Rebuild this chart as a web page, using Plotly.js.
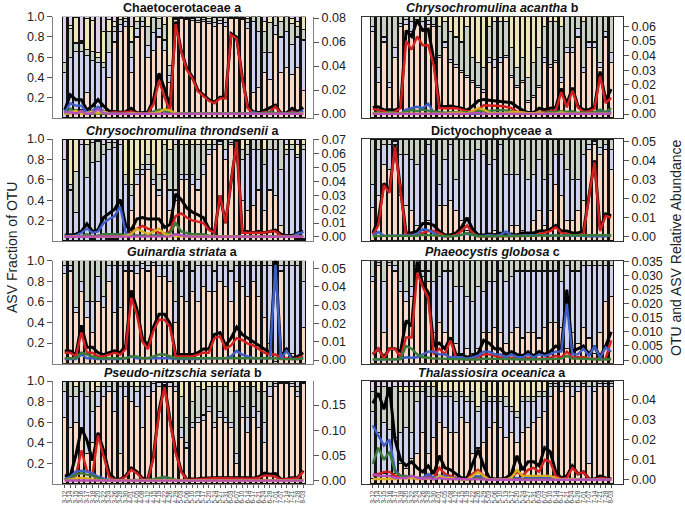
<!DOCTYPE html>
<html><head><meta charset="utf-8">
<script src="https://cdn.plot.ly/plotly-3.0.1.min.js"></script>
<style>html,body{margin:0;padding:0;background:#fff}#chart{width:685px;height:509px}</style>
</head><body><div id="chart"></div>
<script>
const dates = ['3-12','3-14','3-15','3-16','3-17','3-18','3-20','3-22','3-24','3-26','3-28','3-30','4-01','4-05','4-08','4-12','4-15','4-19','4-22','4-26','4-29','5-03','5-06','5-10','5-13','5-17','5-20','5-24','5-27','5-31','6-03','6-07','6-10','6-14','6-17','6-21','6-24','6-28','7-01','7-07','7-14','7-21','7-28','8-03'];

// ---- Panel 1: Chaetocerotaceae a ----
const chaet_otu = [0.0033,0.016,0.012,0.012,0.0033,0.0067,0.012,0.0067,0.0025,0.002,0.0014,0.002,0.0047,0.001,0.001,0.0017,0.012,0.034,0.021,0.006,0.077,0.053,0.038,0.031,0.020,0.016,0.012,0.010,0.014,0.014,0.067,0.064,0.031,0.006,0.002,0.001,0.0033,0.0055,0.0075,0.0006,0.001,0.0047,0.002,0.0055];
const chaet_red = [0.0005,0.001,0.001,0.001,0.0008,0.0008,0.0005,0.0008,0.001,0.0015,0.0012,0.0018,0.002,0.0008,0.0009,0.001,0.008,0.028,0.014,0.002,0.075,0.052,0.037,0.030,0.019,0.015,0.011,0.009,0.013,0.013,0.066,0.063,0.030,0.005,0.0005,0.0003,0.0015,0.002,0.006,0.0003,0.0005,0.002,0.001,0.0015];
const chaet_blue = [0.0015,0.009,0.007,0.007,0.0012,0.003,0.006,0.0025,0.0006,0.0002,0.0001,0.0001,0.0007,0.0001,0.0001,0.0002,0.002,0.003,0.002,0.0004,0.001,0.0005,0.0003,0.0003,0.0004,0.0003,0.0002,0.0004,0.0003,0.0005,0.0004,0.0005,0.0004,0.0004,0.0015,0.0006,0.0007,0.0015,0.0007,0.0002,0.0004,0.0014,0.0006,0.0028];
const chaet_green = [0.0003,0.0045,0.001,0.001,0.0002,0.0006,0.0006,0.0003,0.0005,0.0001,0.0001,0.0001,0.0007,0.0001,0.0001,0.0003,0.0018,0.0035,0.003,0.0006,0.0008,0.0005,0.0004,0.0004,0.0005,0.0004,0.0003,0.0005,0.0004,0.0006,0.0005,0.0006,0.0003,0.0002,0.0001,0.0002,0.0007,0.0016,0.0007,0.0001,0.0002,0.0009,0.0002,0.0006];
const chaet_yellow = [0.0001,0.0005,0.003,0.0002,0.001,0.002,0.0006,0.002,0.0003,0.0001,0.0001,0.0001,0.0007,0.0001,0.0001,0.0002,0.0006,0.0017,0.004,0.003,0.0005,0.0002,0.0002,0.0002,0.0002,0.0002,0.0002,0.0002,0.0002,0.0002,0.0002,0.0002,0.0002,0.0002,0.0001,0.0001,0.0003,0.0005,0.0001,0.0001,0.0001,0.0002,0.0001,0.0008];
const chaet_purple = [0.0015,0.0016,0.0003,0.0024,0.0001,0.0007,0.004,0.0007,0.0001,0.0001,0.0001,0.0001,0.0002,0.0001,0.0001,0.0001,0.0003,0.0004,0.0004,0.0003,0.0003,0.0003,0.0003,0.0003,0.0003,0.0003,0.0003,0.0003,0.0003,0.0003,0.0003,0.0003,0.0003,0.0003,0.0001,0.0001,0.0001,0.0001,0.0001,0.0001,0.0001,0.0001,0.0001,0.0001];
const chaet_fr_red = [0,.05,.08,.08,.25,.12,.05,.12,.40,.75,.85,.90,.45,.80,.90,.60,.67,.80,.67,.35,.97,.98,.97,.96,.94,.95,.93,.90,.93,.90,.98,.98,.97,.88,.25,.30,.45,.38,.82,.45,.50,.43,.50,.27];
const chaet_fr_blue = [.45,.55,.58,.58,.37,.45,.50,.38,.25,.10,.07,.05,.15,.08,.05,.12,.17,.08,.10,.07,.01,.01,.01,.02,.02,.02,.02,.04,.03,.04,.01,.01,.01,.06,.70,.55,.20,.27,.09,.35,.35,.30,.30,.50];
const chaet_fr_green = [.10,.28,.08,.08,.06,.09,.05,.05,.20,.05,.05,.03,.15,.07,.05,.18,.15,.10,.15,.10,.01,.01,.01,.01,.03,.02,.03,.05,.03,.05,.01,.01,.01,.04,.05,.15,.20,.29,.09,.15,.15,.20,.10,.10];
const chaet_fr_yellow = [0,.03,.25,.02,.30,.30,.05,.30,.12,.05,.03,.02,.15,.05,0,.10,.01,.02,.08,.48,.01,0,.01,.01,.01,.01,.02,.01,.01,.01,0,0,.01,.02,0,0,.10,.06,0,.05,0,.05,.05,.13];
const chaet_fr_purple = [.45,.09,.01,.24,.02,.04,.35,.15,.03,.05,0,0,.10,0,0,0,0,0,0,0,0,0,0,0,0,0,0,0,0,0,0,0,0,0,0,0,.05,0,0,0,0,.02,.05,0];

// ---- Panel 2: Chrysochromulina acantha b ----
const acan_otu = [0.0045,0.005,0.0027,0.003,0.0027,0.0045,0.057,0.053,0.064,0.057,0.058,0.037,0.0055,0.005,0.0055,0.005,0.004,0.0027,0.0055,0.009,0.010,0.0095,0.009,0.0089,0.0084,0.0077,0.005,0.0027,0.001,0.001,0.004,0.003,0.004,0.0045,0.0175,0.007,0.018,0.0055,0.003,0.003,0.005,0.029,0.0095,0.017];
const acan_red = [0.0035,0.003,0.002,0.001,0.0015,0.004,0.050,0.044,0.053,0.047,0.047,0.033,0.004,0.004,0.004,0.004,0.003,0.002,0.002,0.003,0.006,0.006,0.006,0.0055,0.005,0.004,0.0017,0.0008,0.0003,0.0003,0.0016,0.0015,0.002,0.0025,0.015,0.0045,0.016,0.0045,0.0015,0.002,0.0035,0.026,0.0075,0.011];
const acan_blue = [0.0003,0.0008,0.0002,0.0002,0.0003,0.0002,0.003,0.004,0.005,0.004,0.007,0.001,0.0002,0.0003,0.0002,0.0002,0.0001,0.0001,0.0002,0.0002,0.0003,0.0005,0.0007,0.0004,0.0002,0.0002,0.0001,0.0001,0.0001,0.0001,0.0001,0.0002,0.0001,0.0001,0.0009,0.0003,0.0009,0.0004,0.0002,0.0002,0.0003,0.0015,0.0005,0.0017];
const acan_green = [0.0005,0.0012,0.0005,0.0015,0.0008,0.0004,0.0017,0.0027,0.002,0.003,0.0023,0.002,0.0012,0.001,0.0012,0.0011,0.001,0.0011,0.0012,0.0018,0.002,0.0025,0.0028,0.0027,0.0025,0.002,0.0009,0.0006,0.0002,0.0003,0.0012,0.0009,0.0014,0.0014,0.002,0.0015,0.002,0.0007,0.0011,0.0008,0.0012,0.003,0.0014,0.004];
const acan_yellow = [0.0003,0.0003,0.0002,0.0002,0.0002,0.0002,0.0003,0.0003,0.0003,0.0003,0.0003,0.0003,0.0005,0.0003,0.0008,0.001,0.001,0.0003,0.0022,0.004,0.003,0.001,0.0005,0.0004,0.0004,0.0015,0.0015,0.0011,0.0006,0.0005,0.0012,0.0003,0.0002,0.0002,0.0012,0.0003,0.0003,0.0003,0.0002,0.0002,0.0002,0.0003,0.0002,0.0002];
const acan_purple = [0.0001,0.0001,0.0001,0.0001,0.0001,0.0001,0.0002,0.0002,0.0002,0.0002,0.0002,0.0001,0.0001,0.0001,0.0001,0.0001,0.0001,0.0001,0.0008,0.0003,0.0001,0.0001,0.0001,0.0001,0.0001,0.0001,0.0001,0.0001,0.0001,0.0001,0.0001,0.0001,0.0001,0.0001,0.0001,0.0001,0.0001,0.0001,0.0001,0.0001,0.0001,0.0001,0.0001,0.0001];
const acan_fr_red = [.85,.35,.75,.30,.60,.90,.92,.85,.93,.88,.92,.90,.60,.70,.55,.50,.45,.40,.35,.30,.25,.55,.50,.55,.60,.40,.30,.35,.15,.20,.30,.55,.50,.55,.35,.65,.65,.80,.45,.70,.70,.50,.80,.55];
const acan_fr_blue = [.05,.15,.05,.05,.10,.03,.05,.10,.04,.07,.04,.02,.02,.05,.03,.03,.02,.02,.02,.02,.03,.05,.08,.05,.02,.02,.02,.02,.02,.02,.02,.05,.03,.02,.05,.05,.05,.08,.05,.05,.05,.05,.05,.10];
const acan_fr_green = [.10,.50,.20,.65,.30,.07,.03,.05,.03,.05,.04,.08,.28,.20,.27,.27,.28,.48,.23,.23,.22,.30,.37,.35,.33,.28,.18,.23,.23,.33,.38,.30,.42,.38,.50,.30,.30,.12,.45,.25,.25,.45,.15,.35];
const acan_fr_yellow = [0,0,0,0,0,0,0,0,0,0,0,0,.10,.05,.15,.20,.25,.10,.40,.45,.50,.10,.05,.05,.05,.30,.50,.40,.60,.45,.30,.10,.05,.05,.10,0,0,0,.05,0,0,0,0,0];
const acan_fr_purple = [0,0,0,0,0,0,0,0,0,0,0,0,0,0,0,0,0,0,0,0,0,0,0,0,0,0,0,0,0,0,0,0,0,0,0,0,0,0,0,0,0,0,0,0];

// ---- Panel 3: Chrysochromulina throndsenii a ----
const thron_otu = [0.0014,0.0014,0.002,0.004,0.0095,0.004,0.005,0.014,0.017,0.020,0.027,0.008,0.005,0.013,0.014,0.013,0.013,0.013,0.007,0.009,0.031,0.027,0.021,0.018,0.016,0.014,0.006,0.003,0.030,0.010,0.040,0.068,0.004,0.004,0.003,0.004,0.003,0.004,0.005,0.002,0.001,0.001,0.003,0.004];
const thron_red = [0.0003,0.0003,0.0003,0.0003,0.0005,0.0005,0.001,0.001,0.001,0.001,0.001,0.001,0.003,0.006,0.008,0.006,0.005,0.003,0.002,0.004,0.015,0.017,0.014,0.012,0.011,0.010,0.005,0.003,0.030,0.010,0.040,0.068,0.003,0.003,0.003,0.003,0.003,0.004,0.004,0.001,0.0005,0.0005,0.0005,0.0005];
const thron_blue = [0.0008,0.0008,0.001,0.003,0.006,0.003,0.004,0.010,0.013,0.015,0.022,0.003,0.001,0.001,0.001,0.001,0.001,0.001,0.001,0.001,0.002,0.001,0.001,0.001,0.001,0.001,0.0005,0.0003,0.0003,0.0003,0.0003,0.0003,0.0005,0.0005,0.0005,0.0005,0.0005,0.0005,0.0005,0.0005,0.0005,0.0005,0.0025,0.0035];
const thron_green = [0.0001,0.0001,0.0005,0.0005,0.002,0.0005,0.0008,0.002,0.002,0.002,0.002,0.001,0.001,0.001,0.001,0.001,0.001,0.001,0.002,0.003,0.010,0.004,0.003,0.002,0.002,0.002,0.001,0.0005,0.0005,0.0005,0.0005,0.0005,0.0005,0.0005,0.0005,0.0005,0.0005,0.0005,0.0005,0.0005,0.0003,0.0003,0.0003,0.0003];
const thron_yellow = [0.0001,0.0005,0.0005,0.0001,0.0003,0.0001,0.0001,0.0001,0.0001,0.0001,0.0001,0.001,0.002,0.006,0.004,0.002,0.004,0.006,0.002,0.001,0.0005,0.0005,0.0003,0.0003,0.0003,0.0003,0.0003,0.0001,0.0001,0.0001,0.0001,0.0001,0.0001,0.0001,0.0001,0.0001,0.0001,0.0001,0.0001,0.0001,0.0001,0.0001,0.0001,0.0001];
const thron_purple = [0.0002,0.0002,0.0002,0.0002,0.0003,0.0002,0.0002,0.0003,0.0003,0.0003,0.0004,0.0002,0.0002,0.0002,0.0002,0.0002,0.0002,0.0002,0.0002,0.0004,0.002,0.001,0.0004,0.0003,0.0003,0.0003,0.0002,0.0002,0.0002,0.0002,0.0002,0.0002,0.0002,0.0002,0.0002,0.0002,0.0002,0.0002,0.0002,0.0002,0.0002,0.0002,0.0002,0.0002];
const thron_fr_red = [0,0,0,0,0,.02,0,0,.02,.02,0,.05,.30,.55,.65,.70,.55,.45,.60,.30,.40,.60,.60,.55,.50,.65,.85,.90,.95,.80,.95,.98,.40,.30,.35,.50,.30,.50,.45,.15,.05,.05,.02,.02];
const thron_fr_blue = [.80,.50,.28,.95,.62,.75,.78,.85,.88,.90,.95,.50,.15,.10,.05,.05,.05,.05,.05,.20,.10,.05,.05,.10,.10,.10,.05,.05,.03,.10,.02,.01,.40,.55,.55,.40,.45,.40,.45,.55,.80,.85,.80,.88];
const thron_fr_green = [0,.05,.40,0,.33,.20,.20,.10,.07,.05,0,.10,.10,.05,.05,.10,.15,.15,.30,.40,.45,.30,.30,.30,.35,.20,.05,.05,.02,.10,.03,.01,.10,.10,.10,.10,.15,.10,.10,.30,.05,.05,.03,.05];
const thron_fr_yellow = [0,.45,.32,0,.05,0,0,0,0,0,0,.35,.45,.30,.25,.15,.25,.35,.05,.10,0,.05,.05,.05,.05,.05,.05,0,0,0,0,0,.10,.05,0,0,.10,0,0,0,.05,.05,.10,.05];
const thron_fr_purple = [.20,0,0,.05,0,.03,.02,.05,.03,.03,.05,0,0,0,0,0,0,0,0,0,.05,0,0,0,0,0,0,0,0,0,0,0,0,0,0,0,0,0,0,0,.05,0,.05,0];

// ---- Panel 4: Dictyochophyceae a ----
const dict_otu = [0.002,0.009,0.028,0.024,0.048,0.025,0.002,0.002,0.003,0.007,0.007,0.006,0.003,0.001,0.001,0.002,0.005,0.010,0.004,0.001,0.001,0.0015,0.001,0.002,0.001,0.0015,0.001,0.002,0.002,0.002,0.003,0.003,0.004,0.006,0.003,0.003,0.002,0.002,0.003,0.022,0.040,0.004,0.012,0.011];
const dict_red = [0.001,0.006,0.027,0.023,0.047,0.024,0.001,0.001,0.001,0.002,0.003,0.003,0.002,0.0003,0.0003,0.001,0.003,0.006,0.002,0.0002,0.0002,0.0002,0.0002,0.0005,0.0002,0.0003,0.0002,0.0005,0.0005,0.0006,0.0015,0.002,0.003,0.005,0.002,0.0015,0.0008,0.0008,0.0015,0.021,0.039,0.003,0.011,0.010];
const dict_blue = [0.0008,0.0025,0.0005,0.0005,0.0005,0.0005,0.0005,0.0008,0.0015,0.004,0.0035,0.002,0.0005,0.0003,0.0003,0.0005,0.001,0.0015,0.001,0.0005,0.0005,0.001,0.0005,0.001,0.0028,0.0008,0.0005,0.0008,0.0008,0.0008,0.0008,0.0005,0.0005,0.0005,0.0005,0.0008,0.0005,0.0005,0.0005,0.0003,0.0003,0.0003,0.0003,0.0008];
const dict_green = [0.0003,0.0005,0.0005,0.0005,0.0005,0.0008,0.0005,0.0005,0.0005,0.001,0.0008,0.0008,0.0005,0.0003,0.0003,0.0005,0.001,0.002,0.001,0.0003,0.0003,0.0003,0.0003,0.0005,0.0003,0.0005,0.0003,0.0005,0.0005,0.0005,0.0008,0.0005,0.0005,0.0008,0.0005,0.0008,0.0008,0.0008,0.0008,0.0005,0.0005,0.0008,0.0008,0.0008];
const dict_fr_red = [.33,.45,.75,.70,.95,.45,.35,.30,.15,.10,.20,.05,.35,.35,.40,.30,.20,.10,.05,.05,.05,.05,.10,.05,.05,.15,.15,.10,.05,.20,.30,.15,.30,.55,.45,.20,.20,.30,.40,.90,.95,.85,.90,.70];
const dict_fr_blue = [.22,.45,.20,.25,.03,.40,.50,.50,.60,.75,.75,.80,.20,.45,.55,.30,.60,.70,.75,.85,.80,.70,.70,.90,.60,.50,.50,.70,.55,.45,.50,.45,.35,.30,.40,.50,.40,.30,.45,.05,.03,.07,.05,.20];
const dict_fr_green = [.45,.10,.05,.05,.02,.15,.15,.20,.25,.15,.05,.15,.45,.20,.05,.40,.20,.20,.20,.10,.15,.25,.20,.05,.35,.35,.35,.20,.40,.35,.20,.40,.35,.15,.15,.30,.40,.40,.15,.05,.02,.08,.05,.10];

// ---- Panel 5: Guinardia striata a ----
const guin_otu = [0.005,0.005,0.003,0.019,0.007,0.007,0.004,0.003,0.004,0.005,0.004,0.008,0.038,0.028,0.012,0.008,0.018,0.025,0.025,0.020,0.003,0.003,0.003,0.003,0.004,0.006,0.006,0.014,0.015,0.008,0.012,0.018,0.014,0.012,0.010,0.008,0.006,0.004,0.055,0.002,0.006,0.001,0.002,0.004];
const guin_red = [0.004,0.004,0.002,0.015,0.004,0.004,0.002,0.002,0.003,0.004,0.003,0.006,0.034,0.025,0.010,0.006,0.016,0.022,0.022,0.018,0.002,0.002,0.002,0.002,0.003,0.004,0.004,0.012,0.013,0.006,0.008,0.012,0.011,0.009,0.008,0.006,0.004,0.003,0.003,0.001,0.001,0.0005,0.001,0.002];
const guin_blue = [0.0005,0.0005,0.0005,0.003,0.001,0.001,0.0005,0.0005,0.0005,0.0005,0.0005,0.001,0.002,0.001,0.001,0.001,0.001,0.001,0.001,0.001,0.0005,0.0005,0.0005,0.0005,0.0005,0.001,0.001,0.001,0.001,0.001,0.002,0.005,0.003,0.002,0.001,0.001,0.001,0.001,0.052,0.001,0.005,0.0005,0.0005,0.001];
const guin_green = [0.001,0.001,0.001,0.004,0.003,0.002,0.001,0.001,0.001,0.001,0.001,0.001,0.002,0.002,0.001,0.001,0.002,0.003,0.003,0.002,0.001,0.001,0.001,0.001,0.001,0.001,0.001,0.001,0.001,0.001,0.001,0.001,0.001,0.001,0.001,0.001,0.001,0.001,0.001,0.0005,0.0005,0.0005,0.0005,0.001];
const guin_fr_red = [.88,.90,.50,.70,.45,.30,.60,.55,.80,.50,.55,.90,.90,.88,.92,.90,.95,.85,.85,.80,.40,.65,.60,.70,.60,.75,.70,.70,.80,.75,.60,.80,.75,.65,.80,.65,.45,.20,.02,.90,.15,.10,.05,.35];
const guin_fr_blue = [.07,.05,.05,.10,.15,.30,.25,.10,.15,.45,.40,.05,.05,.07,.05,.05,.03,.10,.10,.15,.20,.25,.35,.20,.35,.20,.25,.20,.15,.20,.30,.15,.20,.30,.15,.30,.50,.75,.97,.05,.80,.85,.90,.45];
const guin_fr_green = [.05,.05,.45,.20,.40,.40,.15,.35,.05,.05,.05,.05,.05,.05,.03,.05,.02,.05,.05,.05,.40,.10,.05,.10,.05,.05,.05,.10,.05,.05,.10,.05,.05,.05,.05,.05,.05,.05,.01,.05,.05,.05,.05,.20];

// ---- Panel 6: Phaeocystis globosa c ----
const phae_otu = [0.002,0.004,0.001,0.004,0.004,0.003,0.014,0.012,0.035,0.027,0.024,0.005,0.006,0.004,0.008,0.002,0.002,0.001,0.0015,0.0025,0.007,0.006,0.004,0.004,0.002,0.003,0.002,0.0015,0.003,0.0015,0.003,0.002,0.003,0.005,0.004,0.025,0.003,0.004,0.005,0.002,0.005,0.001,0.005,0.010];
const phae_red = [0.002,0.004,0.0005,0.004,0.004,0.001,0.008,0.008,0.031,0.026,0.022,0.002,0.004,0.002,0.007,0.001,0.0005,0.0003,0.0005,0.001,0.002,0.002,0.0015,0.001,0.0005,0.0008,0.0005,0.0003,0.0008,0.0003,0.0005,0.0005,0.0008,0.0015,0.001,0.003,0.001,0.001,0.001,0.0005,0.0005,0.0002,0.0005,0.007];
const phae_blue = [0.0002,0.0003,0.0002,0.0003,0.0003,0.0005,0.001,0.0008,0.001,0.002,0.003,0.003,0.002,0.002,0.001,0.001,0.001,0.0005,0.001,0.0015,0.003,0.003,0.002,0.002,0.001,0.002,0.001,0.001,0.002,0.001,0.002,0.0015,0.002,0.003,0.003,0.020,0.002,0.002,0.004,0.0015,0.005,0.0008,0.0045,0.003];
const phae_green = [0.0003,0.0003,0.0003,0.0003,0.0003,0.0003,0.005,0.004,0.002,0.001,0.0008,0.0005,0.0005,0.0005,0.0005,0.0003,0.0003,0.0002,0.0002,0.0002,0.0005,0.0005,0.0005,0.0005,0.0003,0.0003,0.0003,0.0002,0.0003,0.0002,0.0003,0.0003,0.0003,0.0005,0.0005,0.0015,0.0005,0.0005,0.0005,0.0003,0.0003,0.0002,0.0003,0.0003];
const phae_fr_red = [.80,.95,.30,.95,.90,.70,.60,.65,.90,.85,.80,.30,.40,.30,.60,.20,.10,.15,.10,.15,.30,.30,.35,.30,.20,.30,.35,.25,.30,.30,.25,.35,.40,.40,.35,.15,.30,.20,.35,.25,.10,.30,.60,.65];
const phae_fr_blue = [.05,.03,.50,.03,.05,.10,.10,.10,.05,.05,.10,.50,.45,.60,.30,.55,.65,.50,.50,.60,.40,.50,.45,.60,.60,.55,.55,.65,.60,.60,.65,.55,.50,.50,.45,.80,.60,.70,.60,.70,.85,.65,.35,.30];
const phae_fr_green = [.15,.02,.20,.02,.05,.20,.30,.25,.05,.10,.10,.20,.15,.10,.10,.25,.25,.35,.40,.25,.30,.20,.20,.10,.20,.15,.10,.10,.10,.10,.10,.10,.10,.10,.20,.05,.10,.10,.05,.05,.05,.05,.05,.05];

// ---- Panel 7: Pseudo-nitzschia seriata b ----
const pseu_otu = [0.010,0.010,0.050,0.104,0.080,0.040,0.095,0.060,0.015,0.004,0.003,0.010,0.025,0.018,0.005,0.003,0.050,0.140,0.190,0.120,0.060,0.020,0.003,0.003,0.004,0.005,0.006,0.006,0.006,0.006,0.006,0.006,0.007,0.006,0.005,0.008,0.015,0.013,0.014,0.003,0.003,0.006,0.006,0.020];
const pseu_red = [0.003,0.004,0.010,0.060,0.020,0.012,0.090,0.050,0.008,0.002,0.002,0.008,0.022,0.015,0.003,0.002,0.045,0.135,0.185,0.115,0.055,0.018,0.002,0.002,0.003,0.004,0.005,0.005,0.005,0.005,0.005,0.005,0.005,0.005,0.004,0.006,0.010,0.010,0.008,0.002,0.003,0.005,0.005,0.018];
const pseu_blue = [0.003,0.008,0.018,0.020,0.018,0.015,0.008,0.004,0.002,0.001,0.001,0.001,0.001,0.001,0.001,0.001,0.002,0.003,0.003,0.002,0.001,0.001,0.0005,0.0005,0.0005,0.0005,0.0005,0.0005,0.0005,0.0005,0.0005,0.001,0.001,0.001,0.001,0.001,0.001,0.001,0.001,0.0005,0.0005,0.0005,0.0005,0.001];
const pseu_green = [0.002,0.005,0.012,0.015,0.012,0.010,0.005,0.002,0.001,0.001,0.001,0.001,0.001,0.001,0.001,0.001,0.003,0.006,0.008,0.005,0.002,0.001,0.0005,0.0005,0.0005,0.0005,0.0005,0.0005,0.0005,0.0005,0.0005,0.0008,0.0008,0.0008,0.0008,0.0008,0.001,0.001,0.001,0.0005,0.0005,0.0005,0.0005,0.0008];
const pseu_yellow = [0.001,0.002,0.004,0.006,0.005,0.003,0.001,0.0005,0.0003,0.0003,0.0003,0.0003,0.0005,0.0005,0.0003,0.0003,0.0005,0.001,0.001,0.0008,0.0005,0.0005,0.0003,0.0005,0.0005,0.0005,0.0005,0.0005,0.0005,0.0005,0.0008,0.001,0.0008,0.0015,0.0008,0.0008,0.0008,0.0005,0.0005,0.0003,0.0003,0.0003,0.0003,0.0003];
const pseu_purple = [0.0003,0.0004,0.0005,0.0006,0.0005,0.0004,0.0003,0.0003,0.0003,0.0002,0.0002,0.0002,0.0002,0.0002,0.0002,0.0002,0.0003,0.0003,0.0003,0.0003,0.0002,0.0002,0.0002,0.0002,0.0002,0.0002,0.0002,0.0002,0.0002,0.0002,0.0002,0.0002,0.0002,0.0002,0.0002,0.0002,0.0002,0.0002,0.0002,0.0002,0.0002,0.0002,0.0002,0.0002];
const pseu_fr_red = [.65,.55,.60,.55,.30,.40,.75,.85,.90,.70,.30,.85,.80,.75,.55,.85,.90,.95,.97,.95,.90,.45,.35,.55,.60,.62,.70,.55,.65,.60,.55,.20,.65,.50,.65,.55,.40,.85,.95,.98,.98,.95,.85,.98];
const pseu_fr_blue = [.25,.30,.25,.35,.55,.30,.15,.10,.05,.20,.65,.10,.15,.15,.40,.10,.08,.04,.02,.04,.05,.10,.05,.05,.05,.05,.05,.05,.05,.05,.05,.10,.10,.15,.10,.15,.20,.10,.03,.01,.01,.03,.05,.01];
const pseu_fr_green = [.10,.15,.10,.10,.15,.20,.05,.05,.05,.10,.05,.05,.05,.05,.05,.05,.02,.01,.01,.01,.05,.30,.25,.20,.30,.25,.20,.35,.25,.30,.30,.60,.20,.30,.20,.20,.30,.05,.02,.01,.01,.02,.05,.01];
const pseu_fr_yellow = [0,0,.05,0,0,.10,.05,0,0,0,0,0,0,.05,0,0,0,0,0,0,0,.15,.35,.20,.05,.08,.05,.05,.05,.05,.10,.10,.05,.05,.05,.10,.10,0,0,0,0,0,0,0];
const pseu_fr_purple = [0,0,0,0,0,0,0,0,0,0,0,0,0,0,0,0,0,0,0,0,0,0,0,0,0,0,0,0,0,0,0,0,0,0,0,0,0,0,0,0,0,0,.05,0];

// ---- Panel 8: Thalassiosira oceanica a ----
const thal_otu = [0.038,0.043,0.035,0.046,0.020,0.010,0.007,0.009,0.006,0.004,0.007,0.003,0.012,0.006,0.005,0.003,0.001,0.001,0.008,0.015,0.007,0.001,0.0005,0.0005,0.001,0.003,0.012,0.005,0.009,0.009,0.007,0.016,0.014,0.004,0.001,0.002,0.007,0.003,0.004,0.0005,0.0005,0.002,0.001,0.0005];
const thal_red = [0.002,0.003,0.004,0.004,0.002,0.002,0.001,0.002,0.001,0.001,0.002,0.001,0.006,0.003,0.002,0.001,0.0005,0.0003,0.003,0.005,0.002,0.0003,0.0002,0.0002,0.0003,0.001,0.004,0.002,0.005,0.006,0.004,0.010,0.009,0.002,0.0005,0.001,0.006,0.003,0.004,0.0003,0.0003,0.001,0.0005,0.0003];
const thal_blue = [0.027,0.022,0.017,0.020,0.005,0.002,0.001,0.002,0.001,0.001,0.003,0.001,0.002,0.002,0.001,0.001,0.0003,0.0003,0.001,0.002,0.001,0.0002,0.0001,0.0001,0.0002,0.0005,0.001,0.0005,0.001,0.001,0.001,0.001,0.001,0.0005,0.0002,0.0003,0.0005,0.0003,0.0003,0.0001,0.0001,0.0003,0.0002,0.0001];
const thal_green = [0.008,0.016,0.010,0.014,0.004,0.002,0.002,0.001,0.001,0.0005,0.0008,0.0005,0.001,0.0008,0.0005,0.0003,0.0002,0.0002,0.0005,0.001,0.0005,0.0001,0.0001,0.0001,0.0001,0.0003,0.0005,0.0003,0.0005,0.0005,0.0003,0.0005,0.0005,0.0003,0.0001,0.0001,0.0003,0.0002,0.0002,0.0001,0.0001,0.0001,0.0001,0.0001];
const thal_yellow = [0.0005,0.0005,0.0005,0.0005,0.0005,0.001,0.0008,0.001,0.0005,0.0005,0.0008,0.0003,0.002,0.001,0.001,0.0005,0.0002,0.0002,0.002,0.004,0.002,0.0002,0.0001,0.0001,0.0002,0.001,0.005,0.002,0.002,0.002,0.002,0.002,0.002,0.001,0.0002,0.0003,0.0005,0.0003,0.0003,0.0001,0.0001,0.0002,0.0001,0.0001];
const thal_purple = [0.003,0.002,0.002,0.002,0.001,0.001,0.001,0.002,0.001,0.0005,0.001,0.0003,0.001,0.0005,0.0005,0.0003,0.0002,0.0002,0.0003,0.0005,0.0003,0.0001,0.0001,0.0001,0.0001,0.0002,0.0003,0.0002,0.0003,0.0003,0.0002,0.0003,0.0003,0.0002,0.0001,0.0001,0.0002,0.0001,0.0001,0.0001,0.0001,0.0001,0.0001,0.0001];
const thal_fr_red = [.05,.05,.10,.08,.10,.20,.15,.25,.30,.50,.30,.45,.60,.55,.50,.50,.65,.60,.30,.35,.40,.55,.60,.55,.45,.50,.40,.50,.55,.60,.65,.70,.85,.95,.90,.95,.85,.90,.95,.20,.90,.95,.95,.95];
const thal_fr_blue = [.65,.45,.50,.45,.35,.30,.40,.25,.50,.40,.55,.40,.25,.30,.35,.30,.20,.20,.50,.35,.40,.25,.20,.25,.30,.20,.25,.30,.25,.20,.20,.15,.10,.03,.05,.03,.10,.05,.03,.75,.05,.03,.03,.03];
const thal_fr_green = [.20,.45,.35,.40,.50,.40,.35,.40,.10,.05,.10,.10,.05,.05,.05,.10,.05,.05,.10,.05,.10,.05,.05,.05,.10,.05,.05,.05,.05,.05,.05,.05,.03,.02,.05,.02,.05,.05,.02,.05,.05,.02,.02,.02];
const thal_fr_yellow = [0,0,0,0,0,.05,.05,.05,.05,.05,.05,.05,.10,.10,.10,.10,.10,.15,.10,.25,.10,.15,.15,.15,.15,.25,.30,.15,.15,.15,.10,.10,.02,0,0,0,0,0,0,0,0,0,0,0];
const thal_fr_purple = [.10,.05,.05,.07,.05,.05,.05,.05,.05,0,0,0,0,0,0,0,0,0,0,0,0,0,0,0,0,0,0,0,0,0,0,0,0,0,0,0,0,0,0,0,0,0,0,0];

// ---- Panel titles and right-axis settings ----
const titles = ['<b>Chaetocerotaceae a</b>','<b><i>Chrysochromulina acantha</i> b</b>','<b><i>Chrysochromulina throndsenii</i> a</b>','<b>Dictyochophyceae a</b>','<b><i>Guinardia striata</i> a</b>','<b><i>Phaeocystis globosa</i> c</b>','<b><i>Pseudo-nitzschia seriata</i> b</b>','<b><i>Thalassiosira oceanica</i> a</b>'];

const panels = [
  {lines:[chaet_otu,chaet_red,chaet_blue,chaet_green,chaet_yellow,chaet_purple], fr:[chaet_fr_red,chaet_fr_blue,chaet_fr_green,chaet_fr_yellow,chaet_fr_purple], yr:[-0.0033,0.0811], dt:0.02, fmt:'.2f'},
  {lines:[acan_otu,acan_red,acan_blue,acan_green,acan_yellow,acan_purple], fr:[acan_fr_red,acan_fr_blue,acan_fr_green,acan_fr_yellow,acan_fr_purple], yr:[-0.0027,0.0665], dt:0.01, fmt:'.2f'},
  {lines:[thron_otu,thron_red,thron_blue,thron_green,thron_yellow,thron_purple], fr:[thron_fr_red,thron_fr_blue,thron_fr_green,thron_fr_yellow,thron_fr_purple], yr:[-0.0029,0.0706], dt:0.01, fmt:'.2f'},
  {lines:[dict_otu,dict_red,dict_blue,dict_green,null,null], fr:[dict_fr_red,dict_fr_blue,dict_fr_green,null,null], yr:[-0.0022,0.0512], dt:0.01, fmt:'.2f'},
  {lines:[guin_otu,guin_red,guin_blue,guin_green,null,null], fr:[guin_fr_red,guin_fr_blue,guin_fr_green,null,null], yr:[-0.0020,0.0543], dt:0.01, fmt:'.2f'},
  {lines:[phae_otu,phae_red,phae_blue,phae_green,null,null], fr:[phae_fr_red,phae_fr_blue,phae_fr_green,null,null], yr:[-0.0013,0.0353], dt:0.005, fmt:'.3f'},
  {lines:[pseu_otu,pseu_red,pseu_blue,pseu_green,pseu_yellow,pseu_purple], fr:[pseu_fr_red,pseu_fr_blue,pseu_fr_green,pseu_fr_yellow,pseu_fr_purple], yr:[-0.0065,0.1976], dt:0.05, fmt:'.2f'},
  {lines:[thal_otu,thal_red,thal_blue,thal_green,thal_yellow,thal_purple], fr:[thal_fr_red,thal_fr_blue,thal_fr_green,thal_fr_yellow,thal_fr_purple], yr:[-0.0020,0.0490], dt:0.01, fmt:'.2f'}
];

const pastel = ['#F7D9C8','#CDD1EC','#C9D0C4','#EEE5BA','#DFD0E5'];
const lineCol = ['#000000','#D62020','#3F5FC8','#3A7A3A','#D4B020','#B84FB8'];
const lineW = [3,2.4,2.4,2.4,2.4,2.4];

const W = 685, H = 509;
const colX = [[53,313],[362,623]];
const rowY = [[16.7,118],[139,241],[260.7,363.7],[381,484]];
const xr = [[-2.12,44.77],[-1.95,45.13]];
const FONT = 'Liberation Sans, Arial, Helvetica, sans-serif';

const traces = [];
const layout = {
  width:W, height:H, margin:{l:0,r:0,t:0,b:0}, paper_bgcolor:'#fff', plot_bgcolor:'rgba(0,0,0,0)',
  barmode:'stack', bargap:0.2, showlegend:false, font:{family:FONT, size:12, color:'#222'},
  annotations:[]
};

panels.forEach((p,k)=>{
  const col = k%2, row = Math.floor(k/2);
  const xn = k===0 ? 'x' : 'x'+(k+1);
  const yb = 2*k+1, yl = 2*k+2;
  const ybn = yb===1 ? 'y' : 'y'+yb, yln = 'y'+yl;
  p.fr.forEach((f,j)=>{
    if(!f) return;
    traces.push({type:'bar', x:dates, y:f, xaxis:xn, yaxis:ybn, marker:{color:pastel[j], line:{color:'#111', width:1.1}}, hoverinfo:'skip'});
  });
  p.lines.forEach((l,j)=>{
    if(!l) return;
    traces.push({type:'scatter', mode:'lines', x:dates, y:l, xaxis:xn, yaxis:yln, line:{color:lineCol[j], width:lineW[j]}, hoverinfo:'skip'});
  });
  const lc = col===0 ? '#808080' : '#333';
  const xdom = [colX[col][0]/W, colX[col][1]/W];
  const ydom = [1-rowY[row][1]/H, 1-rowY[row][0]/H];
  layout[k===0?'xaxis':'xaxis'+(k+1)] = {
    domain:xdom, anchor:ybn, type:'category', range:xr[col], showline:true, linecolor:lc, linewidth:1,
    mirror: col===1, showgrid:false, zeroline:false,
    tickmode:'array', tickvals:dates, ticktext:dates,
    ticks: row===3 ? 'outside' : '', ticklen:3, tickcolor:'#555', showticklabels: row===3,
    tickangle:-90, tickfont:{size:6.5, color:'#444', family:FONT}
  };
  layout['yaxis'+(yb===1?'':yb)] = {
    domain:ydom, anchor:xn, range:[0,1], showline:true, linecolor:lc, linewidth:1, mirror: col===1,
    showgrid:false, zeroline:false, fixedrange:true,
    ticks: col===0 ? 'outside' : '', ticklen:5, tickcolor:'#555',
    tickvals:[0.2,0.4,0.6,0.8,1.0], ticktext:['0.2','0.4','0.6','0.8','1.0'],
    showticklabels: col===0, tickfont:{size:12.5, color:'#222', family:FONT}
  };
  layout['yaxis'+yl] = {
    overlaying:ybn, anchor:xn, side:'right', range:p.yr, showgrid:false, zeroline:false,
    showline: col===0, linecolor:lc, linewidth:1,
    tickmode:'linear', tick0:0, dtick:p.dt, tickformat:p.fmt, ticks:'outside', ticklen:5, tickcolor:'#555',
    tickfont:{size:12.5, color:'#222', family:FONT}
  };
  layout.annotations.push({text:titles[k], xref:'paper', yref:'paper',
    x:(colX[col][0]+colX[col][1])/2/W, y:1-(rowY[row][0]-8.5)/H, xanchor:'center', yanchor:'middle',
    showarrow:false, font:{size:12.5, color:'#111', family:FONT}});
});

layout.annotations.push({text:'ASV Fraction of OTU', xref:'paper', yref:'paper', x:12/W, y:1-248/H,
  textangle:-90, showarrow:false, xanchor:'center', yanchor:'middle', font:{size:14, color:'#222', family:FONT}});
layout.annotations.push({text:'OTU and ASV Relative Abundance', xref:'paper', yref:'paper', x:676/W, y:1-248/H,
  textangle:-90, showarrow:false, xanchor:'center', yanchor:'middle', font:{size:14, color:'#222', family:FONT}});

Plotly.newPlot('chart', traces, layout, {staticPlot:true, displayModeBar:false});
</script>
</body></html>
